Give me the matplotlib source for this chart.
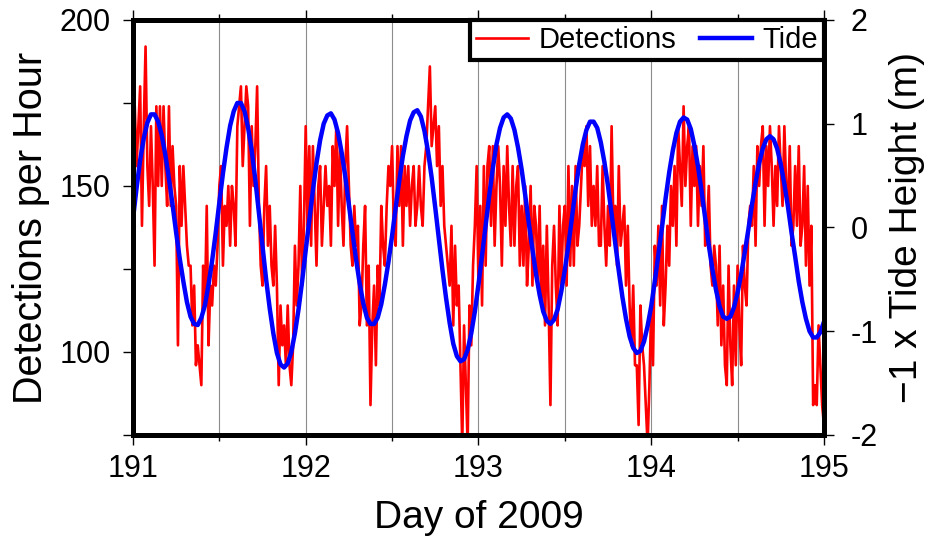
import numpy as np
import matplotlib.pyplot as plt
from matplotlib.ticker import MultipleLocator

plt.rcParams['font.family'] = ['Liberation Sans', 'DejaVu Sans']
plt.rcParams['axes.unicode_minus'] = False

# detections per hour, one value every 15 minutes starting at day 191.0
detections = [
    162, 174, 156, 168, 180, 138, 168, 192, 156, 144, 168, 150,
    126, 174, 150, 174, 150, 174, 156, 144, 174, 144, 162, 150,
    144, 102, 156, 138, 156, 144, 132, 126, 126, 108, 120, 96,
    102, 96, 90, 126, 114, 144, 102, 120, 114, 126, 120, 132,
    150, 156, 126, 144, 138, 150, 132, 150, 144, 132, 168, 174,
    180, 156, 168, 180, 174, 138, 168, 150, 162, 180, 144, 126,
    120, 144, 156, 132, 144, 126, 120, 138, 120, 90, 114, 102,
    108, 96, 114, 96, 90, 102, 132, 114, 126, 150, 120, 138,
    168, 138, 162, 132, 162, 144, 126, 150, 156, 132, 144, 156,
    144, 150, 132, 162, 150, 168, 138, 162, 144, 132, 156, 168,
    150, 132, 126, 144, 132, 138, 108, 114, 132, 144, 108, 126,
    84, 108, 120, 96, 126, 114, 144, 132, 126, 144, 156, 150,
    162, 138, 132, 162, 144, 162, 132, 156, 144, 156, 138, 150,
    156, 138, 144, 156, 144, 138, 156, 162, 174, 186, 162, 168,
    174, 156, 168, 144, 156, 138, 132, 126, 120, 138, 108, 132,
    114, 120, 96, 72, 108, 90, 72, 114, 102, 126, 138, 156,
    120, 144, 114, 156, 126, 156, 162, 138, 162, 132, 150, 162,
    150, 126, 156, 138, 162, 144, 132, 156, 132, 150, 156, 126,
    144, 126, 150, 120, 132, 150, 120, 144, 138, 120, 144, 114,
    132, 108, 138, 114, 84, 126, 138, 120, 108, 144, 120, 138,
    144, 120, 156, 126, 150, 126, 156, 132, 138, 150, 162, 156,
    168, 144, 162, 138, 150, 138, 156, 132, 132, 156, 138, 126,
    144, 132, 168, 138, 144, 126, 156, 132, 138, 144, 120, 138,
    114, 102, 120, 96, 96, 78, 114, 102, 96, 84, 72, 90,
    114, 96, 132, 120, 138, 114, 144, 108, 120, 138, 126, 150,
    138, 156, 132, 168, 156, 144, 174, 150, 162, 168, 138, 162,
    150, 162, 138, 156, 144, 162, 132, 138, 150, 126, 120, 132,
    126, 108, 132, 102, 120, 96, 90, 126, 102, 90, 120, 96,
    126, 108, 96, 132, 120, 114, 138, 144, 138, 156, 132, 162,
    150, 162, 168, 138, 162, 150, 168, 156, 138, 156, 144, 168,
    156, 144, 168, 150, 144, 162, 132, 138, 156, 138, 162, 132,
    138, 156, 126, 150, 120, 138, 84, 90, 84, 108, 96, 84,
    78,
]

# -1 x tide height (m), one value every 30 minutes starting at day 191.0
tide = [
    0.08, 0.38, 0.65, 0.86, 1.01, 1.09, 1.09, 1.02, 0.89, 0.70, 0.47, 0.22,
    -0.05, -0.30, -0.52, -0.72, -0.86, -0.93, -0.94, -0.87, -0.75, -0.55, -0.32, -0.05,
    0.24, 0.52, 0.77, 0.98, 1.12, 1.20, 1.20, 1.12, 0.96, 0.74, 0.46, 0.14,
    -0.18, -0.50, -0.78, -1.02, -1.21, -1.32, -1.35, -1.31, -1.20, -1.02, -0.79, -0.52,
    -0.22, 0.07, 0.36, 0.62, 0.84, 1.00, 1.08, 1.10, 1.04, 0.91, 0.72, 0.49,
    0.22, -0.05, -0.31, -0.54, -0.73, -0.87, -0.93, -0.93, -0.87, -0.74, -0.55, -0.33,
    -0.08, 0.19, 0.45, 0.69, 0.88, 1.03, 1.11, 1.13, 1.07, 0.93, 0.73, 0.48,
    0.19, -0.11, -0.41, -0.68, -0.92, -1.12, -1.24, -1.29, -1.27, -1.18, -1.02, -0.81,
    -0.55, -0.27, 0.02, 0.31, 0.57, 0.80, 0.96, 1.06, 1.09, 1.05, 0.94, 0.77,
    0.56, 0.31, 0.04, -0.21, -0.45, -0.65, -0.81, -0.90, -0.93, -0.89, -0.79, -0.62,
    -0.41, -0.17, 0.10, 0.37, 0.61, 0.80, 0.94, 1.02, 1.02, 0.96, 0.82, 0.63,
    0.40, 0.13, -0.15, -0.42, -0.67, -0.88, -1.05, -1.16, -1.21, -1.19, -1.10, -0.95,
    -0.76, -0.52, -0.26, 0.00, 0.28, 0.53, 0.74, 0.91, 1.02, 1.06, 1.04, 0.95,
    0.79, 0.59, 0.35, 0.09, -0.17, -0.40, -0.60, -0.76, -0.86, -0.88, -0.86, -0.77,
    -0.63, -0.45, -0.24, -0.02, 0.22, 0.43, 0.62, 0.76, 0.85, 0.88, 0.85, 0.76,
    0.61, 0.42, 0.20, -0.05, -0.28, -0.52, -0.72, -0.88, -1.00, -1.06, -1.06, -1.01,
    -0.91,
]

t_det = 191.0 + np.arange(len(detections)) / 96.0
t_tide = 191.0 + np.arange(len(tide)) / 48.0

fig = plt.figure(figsize=(9.41, 5.37), dpi=100)
ax = fig.add_axes([0.1413, 0.19, 0.7343, 0.7728])
ax2 = ax.twinx()

ax.plot(t_det, detections, color='red', lw=1.9, label='Detections')
ax2.plot(t_tide, tide, color='blue', lw=3.2, label='Tide')

ax.set_xlim(191, 195)
ax.set_ylim(75, 200)
ax2.set_ylim(-2, 2)

ax.xaxis.set_major_locator(MultipleLocator(1))
ax.xaxis.set_minor_locator(MultipleLocator(0.5))
ax.yaxis.set_major_locator(MultipleLocator(50))
ax.yaxis.set_minor_locator(MultipleLocator(25))
ax2.yaxis.set_major_locator(MultipleLocator(1))
ax.grid(axis='x', which='both', color='0.55', lw=0.8)

for a in (ax, ax2):
    for s in a.spines.values():
        s.set_linewidth(3.6)

ax.tick_params(axis='x', which='both', direction='out', top=True, width=1,
               labelsize=22, pad=7)
ax.tick_params(axis='x', which='major', length=7)
ax.tick_params(axis='x', which='minor', length=4)
ax.tick_params(axis='y', which='both', length=7, width=1, labelsize=22, pad=9)
ax2.tick_params(axis='y', length=7, width=1, labelsize=22, pad=12)

ax.set_xlabel('Day of 2009', fontsize=28, labelpad=11)
ax.set_ylabel('Detections per Hour', fontsize=28.5, labelpad=7)
ax2.set_ylabel('\u22121 x Tide Height (m)', fontsize=28, labelpad=8)

h1, l1 = ax.get_legend_handles_labels()
h2, l2 = ax2.get_legend_handles_labels()
leg = ax2.legend(h1 + h2, l1 + l2, loc='upper right', ncol=2, fontsize=21,
                 fancybox=False, edgecolor='black', framealpha=1,
                 borderaxespad=0, borderpad=0.2, handlelength=1.8,
                 handletextpad=0.35, columnspacing=0.8)
leg.get_frame().set_linewidth(3)

fig.savefig('out.png', dpi=100)
